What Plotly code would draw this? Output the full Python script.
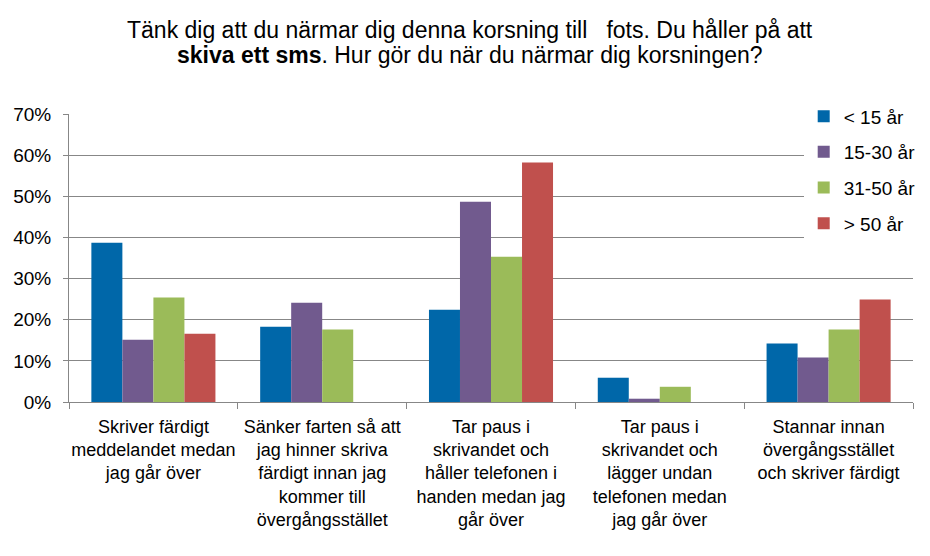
import plotly.graph_objects as go

categories = [
    "Skriver färdigt<br>meddelandet medan<br>jag går över",
    "Sänker farten så att<br>jag hinner skriva<br>färdigt innan jag<br>kommer till<br>övergångsstället",
    "Tar paus i<br>skrivandet och<br>håller telefonen i<br>handen medan jag<br>går över",
    "Tar paus i<br>skrivandet och<br>lägger undan<br>telefonen medan<br>jag går över",
    "Stannar innan<br>övergångsstället<br>och skriver färdigt",
]
series_names = ["< 15 år", "15-30 år", "31-50 år", "> 50 år"]
under_15 = [0.387, 0.183, 0.224, 0.059, 0.142]
age_15_30 = [0.151, 0.241, 0.487, 0.008, 0.108]
age_31_50 = [0.254, 0.176, 0.353, 0.037, 0.176]
over_50 = [0.166, None, 0.582, None, 0.249]
series_values = [under_15, age_15_30, age_31_50, over_50]
colors = ["#0067A9", "#715A8E", "#9BBB59", "#C0504D"]
y_ticks = [0, 0.1, 0.2, 0.3, 0.4, 0.5, 0.6, 0.7]
y_tick_labels = ["0%", "10%", "20%", "30%", "40%", "50%", "60%", "70%"]
title_lines = [
    "Tänk dig att du närmar dig denna korsning till \u00a0 fots. Du håller på att",
    "<b>skiva ett sms</b>. Hur gör du när du närmar dig korsningen?",
]

FONT = "Liberation Sans"
W, H = 930, 556
M_L, M_R, M_T, M_B = 69, 17, 114, 154
PLOT_H = H - M_T - M_B
PLOT_W = W - M_L - M_R

fig = go.Figure()
for name, vals, col in zip(series_names, series_values, colors):
    fig.add_trace(go.Bar(
        x=categories, y=vals, name=name, marker_color=col,
        marker_line_width=0, legendgroup=name,
    ))

title_centers_px = [30, 55]
for txt, cy in zip(title_lines, title_centers_px):
    fig.add_annotation(
        text=txt, xref="paper", yref="paper",
        x=(W / 2 + 5 - M_L) / PLOT_W, y=(H - M_B - cy) / PLOT_H,
        xanchor="center", yanchor="middle", showarrow=False,
        font=dict(family=FONT, size=23, color="black"),
    )

fig.update_layout(
    width=W, height=H,
    margin=dict(l=M_L, r=M_R, t=M_T, b=M_B, autoexpand=False),
    paper_bgcolor="white", plot_bgcolor="white",
    font=dict(family=FONT, size=19, color="black"),
    barmode="group", bargap=0.265, bargroupgap=0,
    legend=dict(
        x=0.8705, xanchor="left", y=1.058, yanchor="top",
        bgcolor="white", font=dict(family=FONT, size=19),
        traceorder="grouped", tracegroupgap=8, itemwidth=30,
    ),
    showlegend=True,
)
fig.update_yaxes(
    range=[0, 0.7], tickvals=y_ticks, ticktext=y_tick_labels,
    showgrid=True, gridcolor="#878787", gridwidth=1,
    showline=True, linecolor="#878787", linewidth=1,
    ticks="outside", ticklen=5, tickcolor="#878787",
    zeroline=False, ticklabelstandoff=8,
)
fig.update_xaxes(
    showline=True, linecolor="#878787", linewidth=1,
    ticks="outside", ticklen=6, tickcolor="#878787", tickson="boundaries",
    showgrid=False, tickangle=0, ticklabelstandoff=8,
    tickfont=dict(family=FONT, size=18),
)

fig.write_html("out.html")
